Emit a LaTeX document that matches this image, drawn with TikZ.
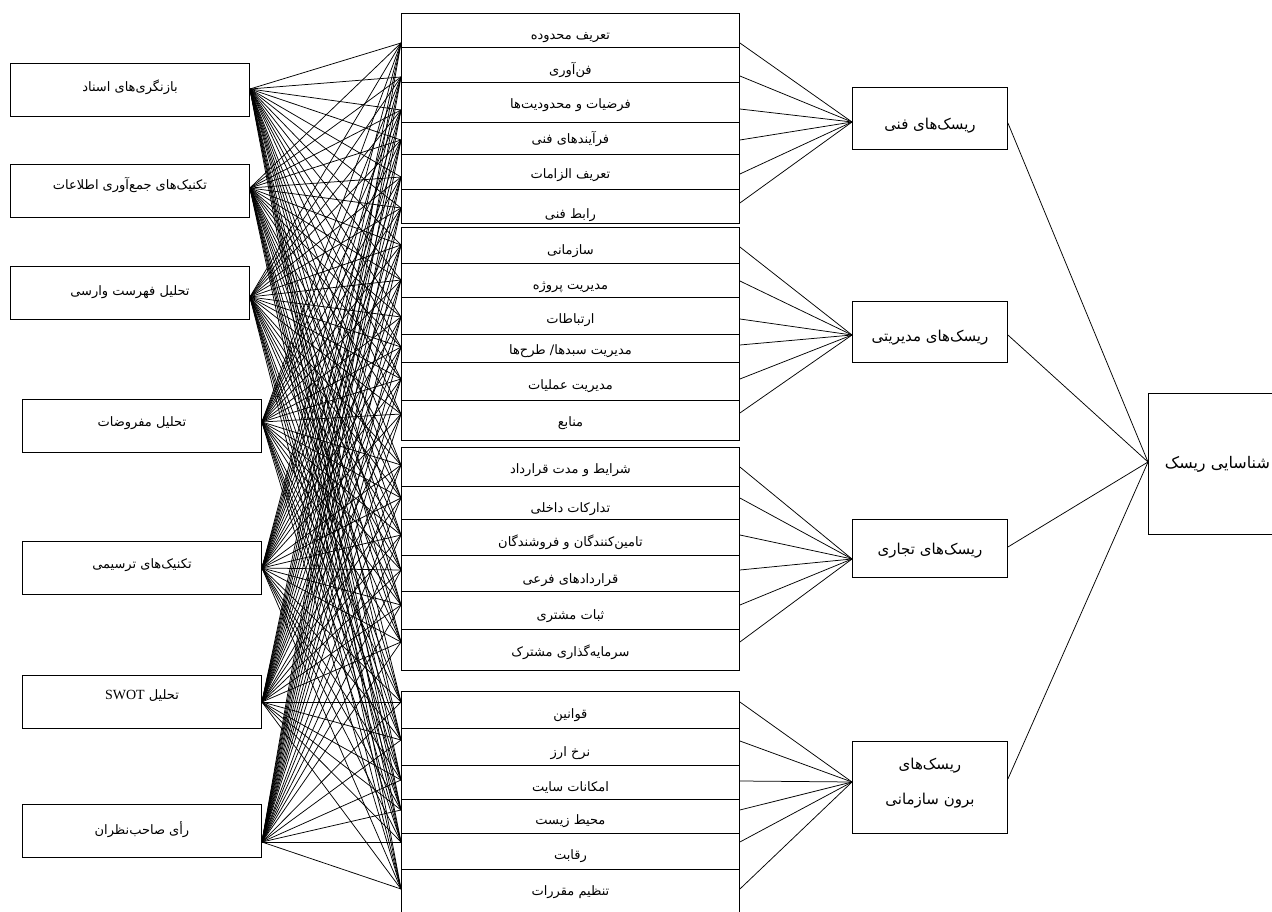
\documentclass[tikz,border=0pt]{standalone}
\usepackage{fontspec}
\TeXXeTstate=1
\newfontfamily\arabicfont[Script=Arabic]{DejaVu Sans}
\newfontfamily\latinfont{Liberation Serif}
\newcommand{\fa}[1]{{\arabicfont\beginR #1\endR}}
\begin{document}
\begin{tikzpicture}[x=1pt,y=-1pt,
  box/.style={draw, line width=0.9pt, inner sep=0pt, anchor=north west},
  lbox/.style={box, minimum width=239pt, minimum height=53pt, text depth=6pt, text height=#1, font=\fontsize{13}{15}\selectfont},
  mrow/.style={box, minimum width=338pt, text depth=0pt, text height=#1, font=\fontsize{13}{15}\selectfont},
  rbox/.style={box, minimum width=155pt, font=\fontsize{15}{18}\selectfont, align=center},
  conn/.style={line width=0.75pt}]
\useasboundingbox (0,0) rectangle (1272,912);

% left column
\node[lbox=9pt] (L1) at (10,63) {\fa{بازنگری^^^^200cهای اسناد}};
\node[lbox=3pt] (L2) at (10,164) {\fa{تکنیک^^^^200cهای جمع^^^^200cآوری اطلاعات}};
\node[lbox=12pt] (L3) at (10,266) {\fa{تحلیل فهرست وارسی}};
\node[lbox=7pt] (L4) at (22,399) {\fa{تحلیل مفروضات}};
\node[lbox=8pt] (L5) at (22,541) {\fa{تکنیک^^^^200cهای ترسیمی}};
\node[lbox=1pt] (L6) at (22,675) {{\arabicfont\beginR تحلیل \beginL{\latinfont\fontsize{14}{16}\selectfont SWOT}\endL\endR}};
\node[lbox=13pt] (L7) at (22,804) {\fa{رأی صاحب^^^^200cنظران}};

% middle column, group 1
\node[mrow=19pt, minimum height=34pt] (M1) at (401,13) {\fa{تعریف محدوده}};
\node[mrow=20pt, minimum height=35pt] (M2) at (401,47) {\fa{فن^^^^200cآوری}};
\node[mrow=13pt, minimum height=40pt] (M3) at (401,82) {\fa{فرضیات و محدودیت^^^^200cها}};
\node[mrow=11pt, minimum height=32pt] (M4) at (401,122) {\fa{فرآیندهای فنی}};
\node[mrow=13pt, minimum height=35pt] (M5) at (401,154) {\fa{تعریف الزامات}};
\node[mrow=25pt, minimum height=34pt] (M6) at (401,189) {\fa{رابط فنی}};
% group 2
\node[mrow=19pt, minimum height=36pt] (M7) at (401,227) {\fa{سازمانی}};
\node[mrow=19pt, minimum height=34pt] (M8) at (401,263) {\fa{مدیریت پروژه}};
\node[mrow=16pt, minimum height=37pt] (M9) at (401,297) {\fa{ارتباطات}};
\node[mrow=13pt, minimum height=28pt] (M10) at (401,334) {\fa{مدیریت سبدها/ طرح^^^^200cها}};
\node[mrow=17pt, minimum height=38pt] (M11) at (401,362) {\fa{مدیریت عملیات}};
\node[mrow=13pt, minimum height=40pt] (M12) at (401,400) {\fa{منابع}};
% group 3
\node[mrow=13pt, minimum height=39pt] (M13) at (401,447) {\fa{شرایط و مدت قرارداد}};
\node[mrow=20pt, minimum height=33pt] (M14) at (401,486) {\fa{تدارکات داخلی}};
\node[mrow=19pt, minimum height=36pt] (M15) at (401,519) {\fa{تامین^^^^200cکنندگان و فروشندگان}};
\node[mrow=21pt, minimum height=36pt] (M16) at (401,555) {\fa{قراردادهای فرعی}};
\node[mrow=19pt, minimum height=38pt] (M17) at (401,591) {\fa{ثبات مشتری}};
\node[mrow=13pt, minimum height=41pt] (M18) at (401,629) {\fa{سرمایه^^^^200cگذاری مشترک}};
% group 4
\node[mrow=18pt, minimum height=37pt] (M19) at (401,691) {\fa{قوانین}};
\node[mrow=20pt, minimum height=37pt] (M20) at (401,728) {\fa{نرخ ارز}};
\node[mrow=19pt, minimum height=34pt] (M21) at (401,765) {\fa{امکانات سایت}};
\node[mrow=17pt, minimum height=34pt] (M22) at (401,799) {\fa{محیط زیست}};
\node[mrow=17pt, minimum height=36pt] (M23) at (401,833) {\fa{رقابت}};
\node[mrow=3pt, minimum height=50pt] (M24) at (401,869) {\fa{تنظیم مقررات}};

% risk boxes
\node[rbox, minimum height=62pt, text height=22.4pt, text depth=0pt] (K1) at (852,87) {\fa{ریسک^^^^200cهای فنی}};
\node[rbox, minimum height=61pt, text height=18.4pt, text depth=0pt] (K2) at (852,301) {\fa{ریسک^^^^200cهای مدیریتی}};
\node[rbox, minimum height=58pt, text height=12.4pt, text depth=0pt] (K3) at (852,519) {\fa{ریسک^^^^200cهای تجاری}};
\node[rbox, minimum height=92pt, text depth=12.5pt] (K4) at (852,741) {\fa{ریسک^^^^200cهای}\\[17pt]\fa{برون سازمانی}};
\node[box, minimum width=138pt, minimum height=141pt, font=\fontsize{16}{19}\selectfont] (F) at (1148,393) {\fa{شناسایی ریسک}};

% ports
\foreach \i/\p in {1/89,2/188,3/297,4/422,5/568,6/702,7/842}
  \coordinate (LP\i) at (L\i.east |- 0,\p);
\foreach \j/\p/\q in {1/43/43,2/77/76,3/110/109,4/140/140,5/177/174,6/208/203,
  7/245/247,8/280/281,9/317/319,10/347/345,11/379/379,12/414/413,
  13/465/467,14/498/498,15/535/535,16/570/570,17/605/605,18/642/642,
  19/702/702,20/740/741,21/780/781,22/810/810,23/842/842,24/889/889}{
  \coordinate (PW\j) at (M\j.west |- 0,\p);
  \coordinate (PE\j) at (M\j.east |- 0,\q);}
\foreach \k/\p/\q in {1/122/123,2/335/335,3/559/547,4/782/779}{
  \coordinate (KW\k) at (K\k.west |- 0,\p);
  \coordinate (KE\k) at (K\k.east |- 0,\q);}
\coordinate (FW) at (F.west |- 0,462);

% connectors
\foreach \i in {1,...,7}
  \foreach \j in {1,...,24}
    \draw[conn] (LP\i) -- (PW\j);
\foreach \j in {1,...,6} \draw[conn] (PE\j) -- (KW1);
\foreach \j in {7,...,12} \draw[conn] (PE\j) -- (KW2);
\foreach \j in {13,...,18} \draw[conn] (PE\j) -- (KW3);
\foreach \j in {19,...,24} \draw[conn] (PE\j) -- (KW4);
\foreach \k in {1,...,4} \draw[conn] (KE\k) -- (FW);
\end{tikzpicture}
\end{document}
